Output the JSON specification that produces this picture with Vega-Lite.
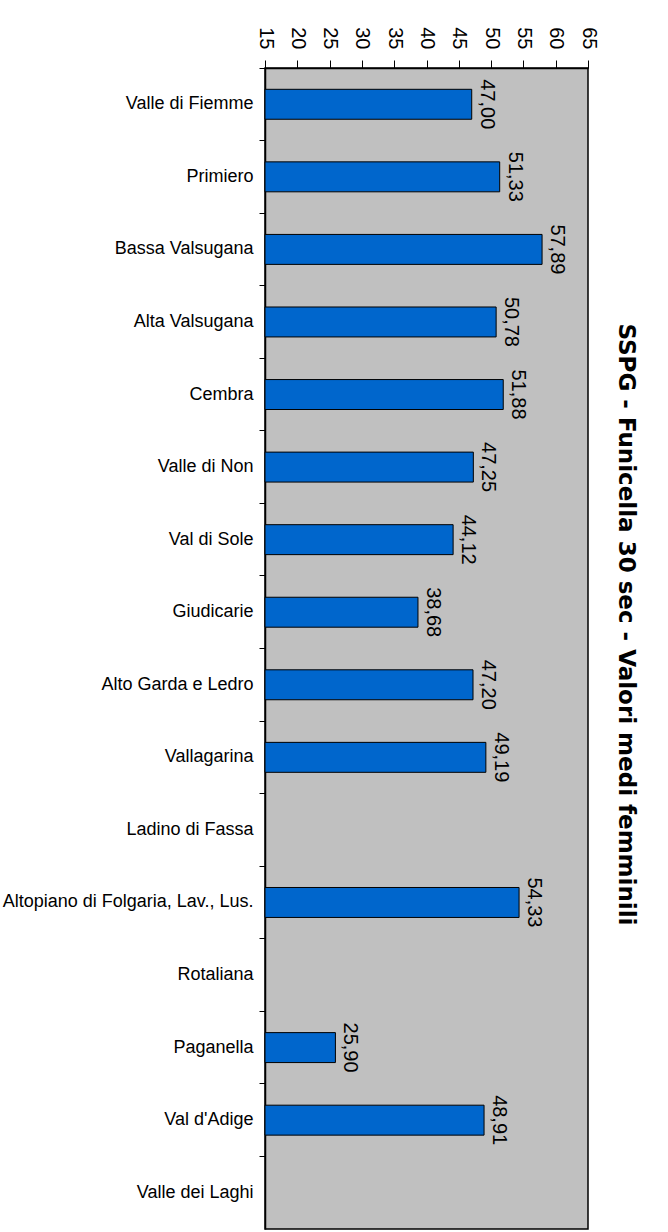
{
  "$schema": "https://vega.github.io/schema/vega-lite/v6.json",
  "autosize": "none",
  "padding": {"left": 265, "top": 68, "right": 80, "bottom": 3},
  "width": 323,
  "height": 1161,
  "background": "white",
  "title": {
    "text": "SSPG - Funicella 30 sec - Valori medi femminili",
    "orient": "right",
    "anchor": "middle",
    "font": "DejaVu Sans",
    "fontSize": 23,
    "fontWeight": "bold",
    "color": "black",
    "offset": 16,
    "dx": -24
  },
  "data": {
    "values": [
      {"zona": "Valle di Fiemme", "valore": 47.00},
      {"zona": "Primiero", "valore": 51.33},
      {"zona": "Bassa Valsugana", "valore": 57.89},
      {"zona": "Alta Valsugana", "valore": 50.78},
      {"zona": "Cembra", "valore": 51.88},
      {"zona": "Valle di Non", "valore": 47.25},
      {"zona": "Val di Sole", "valore": 44.12},
      {"zona": "Giudicarie", "valore": 38.68},
      {"zona": "Alto Garda e Ledro", "valore": 47.20},
      {"zona": "Vallagarina", "valore": 49.19},
      {"zona": "Ladino di Fassa", "valore": null},
      {"zona": "Altopiano di Folgaria, Lav., Lus.", "valore": 54.33},
      {"zona": "Rotaliana", "valore": null},
      {"zona": "Paganella", "valore": 25.90},
      {"zona": "Val d'Adige", "valore": 48.91},
      {"zona": "Valle dei Laghi", "valore": null}
    ]
  },
  "encoding": {
    "y": {
      "field": "zona",
      "type": "nominal",
      "sort": null,
      "scale": {
        "domain": ["Valle di Fiemme", "Primiero", "Bassa Valsugana", "Alta Valsugana", "Cembra", "Valle di Non", "Val di Sole", "Giudicarie", "Alto Garda e Ledro", "Vallagarina", "Ladino di Fassa", "Altopiano di Folgaria, Lav., Lus.", "Rotaliana", "Paganella", "Val d'Adige", "Valle dei Laghi"],
        "paddingInner": 0,
        "paddingOuter": 0
      },
      "axis": {
        "title": null,
        "bandPosition": 0,
        "grid": false,
        "domainColor": "black",
        "domainWidth": 1.5,
        "tickColor": "black",
        "tickSize": 6,
        "labelPadding": 6,
        "labelFont": "Liberation Sans",
        "labelFontSize": 18,
        "labelColor": "black",
        "labelLimit": 400
      }
    },
    "x": {
      "field": "valore",
      "type": "quantitative",
      "scale": {"domain": [15, 65], "zero": false, "clamp": true, "nice": false},
      "axis": {
        "title": null,
        "orient": "top",
        "values": [15, 20, 25, 30, 35, 40, 45, 50, 55, 60, 65],
        "grid": false,
        "domainColor": "black",
        "domainWidth": 1.5,
        "tickColor": "black",
        "tickSize": 8,
        "labelPadding": 11,
        "labelAngle": 90,
        "labelAlign": "right",
        "labelBaseline": "middle",
        "labelFont": "Liberation Sans",
        "labelFontSize": 20,
        "labelColor": "black",
        "labelFlush": false,
        "labelOverlap": false
      }
    }
  },
  "layer": [
    {
      "mark": {"type": "bar", "color": "#0066CC", "stroke": "black", "strokeWidth": 1, "height": {"band": 0.413}},
      "encoding": {
        "x2": {"datum": 15}
      }
    },
    {
      "mark": {"type": "text", "angle": 90, "align": "center", "baseline": "bottom", "dy": -5, "font": "Liberation Sans", "fontSize": 20, "color": "black"},
      "encoding": {
        "text": {"field": "valore", "type": "quantitative", "format": ".2f"}
      }
    }
  ],
  "config": {
    "locale": {"number": {"decimal": ",", "thousands": ".", "grouping": [3], "currency": ["", " €"]}},
    "view": {"fill": "#C0C0C0", "stroke": "black", "strokeWidth": 1.5}
  }
}
